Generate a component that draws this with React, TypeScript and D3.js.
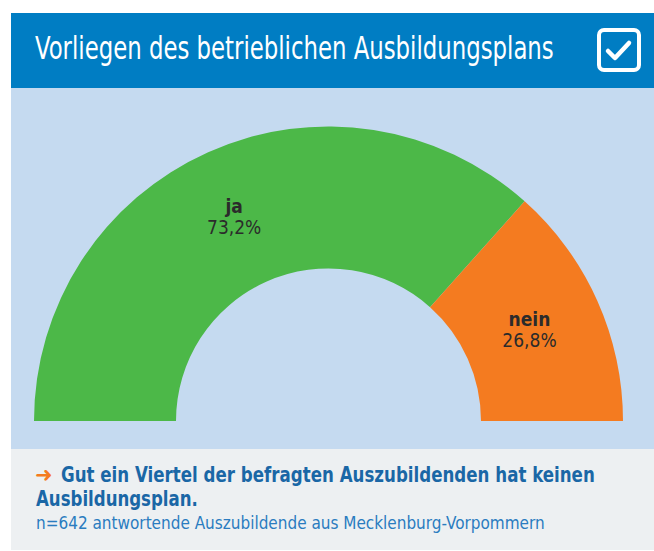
import React, { useLayoutEffect, useRef, useState } from "react";
import * as d3 from "d3";

const categories = ["ja", "nein"];
const values = [73.2, 26.8];
const valueLabels = ["73,2%", "26,8%"];
const colors = ["#4cb848", "#f47b20"];

const title = "Vorliegen des betrieblichen Ausbildungsplans";
const headline1 = "Gut ein Viertel der befragten Auszubildenden hat keinen";
const headline2 = "Ausbildungsplan.";
const note = "n=642 antwortende Auszubildende aus Mecklenburg-Vorpommern";

const condensed = "'Liberation Sans Narrow', 'DejaVu Sans Condensed', 'Open Sans', sans-serif";

function FitText(props: {
  x: number;
  y: number;
  width: number;
  fill: string;
  fontSize: number;
  fontWeight?: number;
  children: string;
}) {
  const ref = useRef<SVGTextElement>(null);
  const [sx, setSx] = useState(1);
  useLayoutEffect(() => {
    if (ref.current) {
      const w = ref.current.getBBox().width;
      if (w > 0) setSx(props.width / w);
    }
  }, [props.width, props.children]);
  return (
    <g transform={`translate(${props.x},${props.y}) scale(${sx},1)`}>
      <text
        ref={ref}
        x={0}
        y={0}
        fill={props.fill}
        fontFamily={condensed}
        fontSize={props.fontSize}
        fontWeight={props.fontWeight ?? 400}
      >
        {props.children}
      </text>
    </g>
  );
}

export default function App() {
  const W = 654;
  const H = 551;
  const cx = 328.5;
  const cy = 421;
  const outerR = 294.5;
  const innerR = 152.5;

  const pie = d3
    .pie<number>()
    .sort(null)
    .startAngle(-Math.PI / 2)
    .endAngle(Math.PI / 2)(values);
  const arc = d3.arc<d3.PieArcDatum<number>>().innerRadius(innerR).outerRadius(outerR);

  return (
    <svg width={W} height={H} style={{ position: "absolute", left: 0, top: 0 }}>
      {/* panels */}
      <rect x={11} y={13} width={W - 11} height={75} fill="#007dc3" />
      <rect x={11} y={88} width={W - 11} height={361} fill="#c5daf0" />
      <rect x={11} y={449} width={W - 11} height={101} fill="#edf0f2" />

      {/* title */}
      <FitText x={35} y={59} width={519} fill="#ffffff" fontSize={32} fontWeight={300}>
        {title}
      </FitText>

      {/* checkbox icon */}
      <rect x={599} y={30} width={40} height={40} rx={5} ry={5} fill="none" stroke="#ffffff" strokeWidth={4} />
      <path d="M608,51 L615,58 L629,43" fill="none" stroke="#ffffff" strokeWidth={4.5} strokeLinecap="round" strokeLinejoin="round" />

      {/* arcs */}
      <g transform={`translate(${cx},${cy})`}>
        {pie.map((d, i) => (
          <path key={categories[i]} d={arc(d) || ""} fill={colors[i]} />
        ))}
        {pie.map((d, i) => {
          const [x, y] = arc.centroid(d);
          return (
            <g key={"l" + i} transform={`translate(${x - 3},${y})`} fill="#2b2b2b" textAnchor="middle" fontFamily={condensed}>
              <text y={-4} fontSize={19} fontWeight={700}>
                {categories[i]}
              </text>
              <text y={17} fontSize={19}>
                {valueLabels[i]}
              </text>
            </g>
          );
        })}
      </g>

      {/* footer */}
      <text x={35} y={482} fill="#f47b20" fontFamily="'DejaVu Sans', sans-serif" fontSize={21} fontWeight={700}>
        ➜
      </text>
      <FitText x={61} y={482} width={534} fill="#1a67a6" fontSize={21} fontWeight={700}>
        {headline1}
      </FitText>
      <FitText x={36} y={506} width={162} fill="#1a67a6" fontSize={21} fontWeight={700}>
        {headline2}
      </FitText>
      <FitText x={36} y={529} width={509} fill="#2a7cc0" fontSize={17}>
        {note}
      </FitText>
    </svg>
  );
}
